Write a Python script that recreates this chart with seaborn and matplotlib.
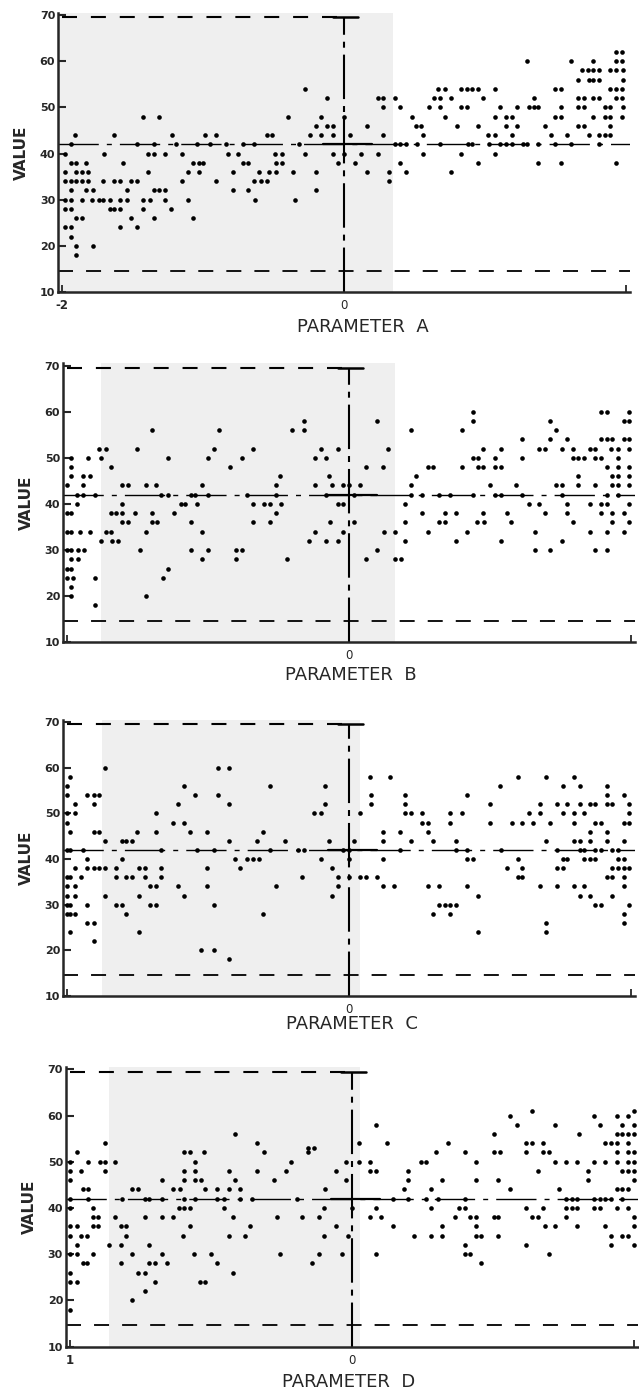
import matplotlib
matplotlib.use('Agg')
import pandas as pd
import seaborn as sns
from matplotlib import pyplot as plt

# dot rows: value -> parameter positions of the dots on that row
param_a = {
    62: [1.93, 1.97],
    60: [1.30, 1.61, 1.77, 1.93, 1.97],
    58: [1.69, 1.73, 1.77, 1.81, 1.89, 1.93, 1.98],
    56: [1.66, 1.74, 1.77, 1.81, 1.98],
    54: [-0.28, 0.67, 0.72, 0.83, 0.87, 0.91, 0.95, 1.07, 1.50, 1.54, 1.89, 1.93, 1.97],
    52: [-0.12, 0.24, 0.28, 0.36, 0.64, 0.68, 0.76, 0.99, 1.35, 1.66, 1.70, 1.77, 1.81, 1.93, 1.97],
    50: [0.28, 0.40, 0.60, 0.68, 0.83, 0.87, 1.11, 1.23, 1.31, 1.35, 1.38, 1.54, 1.66, 1.70, 1.85, 1.89, 1.98],
    48: [-1.43, -1.31, -0.40, -0.16, 0.00, 0.48, 0.72, 1.07, 1.15, 1.19, 1.50, 1.54, 1.77, 1.85, 1.89, 1.97],
    46: [-0.20, -0.12, -0.08, 0.16, 0.51, 0.55, 0.80, 0.95, 1.15, 1.23, 1.43, 1.66, 1.70, 1.89],
    44: [-1.91, -1.63, -1.22, -0.99, -0.91, -0.55, -0.51, -0.24, -0.16, -0.08, 0.04, 0.28, 0.56, 1.02,
         1.07, 1.19, 1.47, 1.58, 1.74, 1.81, 1.85, 1.89],
    42: [-1.94, -1.47, -1.35, -1.19, -1.04, -0.95, -0.84, -0.72, -0.64, -0.32, 0.36, 0.40, 0.44, 0.52,
         0.68, 0.88, 0.91, 1.03, 1.11, 1.15, 1.19, 1.27, 1.30, 1.38, 1.50, 1.61, 1.81],
    40: [-1.98, -1.70, -1.39, -1.35, -1.27, -1.15, -0.82, -0.75, -0.49, -0.44, -0.28, -0.08, 0.00, 0.12,
         0.24, 0.56, 0.83, 1.07],
    38: [-1.94, -1.90, -1.83, -1.57, -1.07, -1.03, -1.00, -0.72, -0.68, -0.48, -0.44, -0.04, 0.08, 0.40,
         0.95, 1.38, 1.54, 1.93],
    36: [-1.98, -1.90, -1.86, -1.82, -1.39, -1.11, -1.03, -0.79, -0.60, -0.53, -0.48, -0.36, -0.20, 0.16,
         0.32, 0.44, 0.76],
    34: [-1.98, -1.94, -1.90, -1.86, -1.82, -1.71, -1.63, -1.59, -1.51, -1.47, -1.15, -0.91, -0.64, -0.59,
         -0.55, 0.32],
    32: [-1.94, -1.83, -1.78, -1.54, -1.35, -1.31, -1.27, -0.79, -0.68, -0.20],
    30: [-1.98, -1.94, -1.86, -1.79, -1.74, -1.71, -1.66, -1.59, -1.54, -1.43, -1.38, -1.27, -1.11, -0.63, -0.35],
    28: [-1.98, -1.94, -1.66, -1.63, -1.59, -1.43, -1.23],
    26: [-1.90, -1.86, -1.51, -1.35, -1.07],
    24: [-1.98, -1.94, -1.59, -1.47],
    22: [-1.94],
    20: [-1.90, -1.78],
    18: [-1.90],
}

param_b = {
    60: [0.88, 1.79, 1.83, 1.99],
    58: [-0.32, 0.20, 0.88, 1.43, 1.95, 1.99],
    56: [-1.40, -0.92, -0.40, -0.32, 0.44, 0.80, 1.47],
    54: [1.23, 1.43, 1.55, 1.79, 1.83, 1.87, 1.95, 1.99],
    52: [-1.77, -1.72, -1.50, -0.96, -0.68, -0.20, -0.08, 0.28, 0.95, 1.08, 1.35, 1.39, 1.51, 1.59, 1.71,
         1.75, 1.86, 1.91, 1.99],
    50: [-1.97, -1.85, -1.76, -1.28, -1.00, -0.76, -0.24, -0.16, 0.88, 0.92, 1.04, 1.23, 1.59, 1.63, 1.67,
         1.75, 1.79, 1.91],
    48: [-1.97, -1.69, -0.84, 0.12, 0.24, 0.56, 0.60, 0.80, 0.92, 0.95, 1.04, 1.08, 1.83, 1.91, 1.99],
    46: [-1.97, -1.89, -1.84, -0.49, -0.14, 0.48, 1.63, 1.87, 1.91, 1.99],
    44: [-2.00, -1.89, -1.61, -1.57, -1.44, -1.37, -1.04, -0.52, -0.24, -0.12, -0.04, 0.00, 0.08, 0.44,
         1.00, 1.19, 1.47, 1.51, 1.63, 1.75, 1.87, 1.91, 1.99],
    42: [-1.93, -1.89, -1.80, -1.33, -1.28, -1.12, -1.09, -1.00, -0.72, -0.52, -0.16, 0.04, 0.44, 0.52,
         0.64, 0.72, 0.88, 1.04, 1.08, 1.23, 1.51, 1.83, 1.91],
    40: [-1.93, -1.61, -1.19, -1.16, -1.08, -0.68, -0.60, -0.56, -0.48, -0.08, -0.04, 0.40, 1.28, 1.35,
         1.55, 1.71, 1.79, 1.83, 1.99],
    38: [-2.00, -1.97, -1.69, -1.65, -1.61, -1.52, -1.40, -1.24, -0.52, 0.52, 0.68, 0.76, 0.95, 1.12,
         1.39, 1.55, 1.79, 1.87, 1.95],
    36: [-1.61, -1.57, -1.40, -1.36, -1.12, -0.68, -0.56, -0.13, 0.04, 0.40, 0.64, 0.68, 0.91, 0.96,
         1.15, 1.59, 1.87, 1.99],
    34: [-2.00, -1.97, -1.91, -1.84, -1.72, -1.69, -1.44, -1.04, -0.24, -0.04, 0.25, 0.33, 0.56, 0.84,
         1.32, 1.71, 1.83, 1.95],
    32: [-1.76, -1.68, -1.64, -0.28, -0.16, -0.08, 0.40, 0.76, 1.08, 1.51],
    30: [-2.00, -1.97, -1.92, -1.88, -1.48, -1.12, -1.00, -0.80, -0.76, 0.20, 1.32, 1.43, 1.75, 1.83],
    28: [-1.97, -1.92, -1.04, -0.80, -0.44, 0.12, 0.33, 0.37],
    26: [-2.00, -1.97, -1.28],
    24: [-2.00, -1.96, -1.80, -1.32],
    22: [-1.97],
    20: [-1.97, -1.44],
    18: [-1.80],
}

param_c = {
    60: [-1.73, -0.93, -0.85],
    58: [-1.98, 0.15, 0.29, 1.20, 1.40, 1.60],
    56: [-2.00, -1.17, -0.56, -0.17, 1.07, 1.52, 1.64, 1.83],
    54: [-2.00, -1.86, -1.81, -1.77, -1.09, -0.93, 0.16, 0.40, 0.84, 1.83, 1.95],
    52: [-1.94, -1.81, -1.21, -0.85, -0.17, 0.16, 0.40, 1.00, 1.36, 1.48, 1.55, 1.64, 1.71, 1.75, 1.83,
         1.87, 1.99],
    50: [-2.00, -1.94, -1.37, -0.25, -0.20, 0.08, 0.40, 0.44, 0.52, 0.72, 0.80, 1.28, 1.36, 1.52, 1.60,
         1.67, 1.99],
    48: [-2.00, -1.25, -1.17, 0.52, 0.56, 0.72, 1.00, 1.16, 1.23, 1.31, 1.43, 1.60, 1.75, 1.79, 1.95, 1.99],
    46: [-1.98, -1.81, -1.77, -1.50, -1.37, -1.13, -1.01, -0.61, 0.24, 0.36, 0.56, 1.71, 1.83],
    44: [-1.73, -1.61, -1.58, -1.54, -0.85, -0.65, -0.45, -0.14, 0.04, 0.24, 0.44, 0.60, 0.76, 1.40,
         1.60, 1.64, 1.71, 1.83, 1.95],
    42: [-2.00, -1.98, -1.89, -1.33, -1.08, -0.96, -0.56, -0.36, -0.32, -0.04, 0.00, 0.36, 0.76, 0.84,
         1.08, 1.48, 1.64, 1.67, 1.75, 1.79, 1.87, 1.91],
    40: [-1.86, -1.61, -0.81, -0.72, -0.68, -0.64, -0.20, 0.00, 0.24, 0.84, 0.88, 1.20, 1.52, 1.55, 1.67,
         1.71, 1.75, 1.91, 1.95],
    38: [-1.94, -1.86, -1.81, -1.77, -1.73, -1.65, -1.49, -1.45, -1.33, -1.01, -0.77, -0.12, 1.12, 1.23,
         1.48, 1.52, 1.87, 1.91, 1.95, 1.99],
    36: [-2.00, -1.98, -1.90, -1.65, -1.58, -1.54, -1.45, -1.33, -0.33, -0.08, 0.00, 0.08, 0.12, 0.20,
         1.20, 1.23, 1.83, 1.87, 1.95],
    34: [-2.00, -1.94, -1.41, -1.37, -1.21, -1.01, -0.52, -0.08, 0.24, 0.32, 0.56, 0.64, 0.84, 1.36, 1.48,
         1.60, 1.67, 1.95],
    32: [-2.00, -1.94, -1.73, -1.49, -1.17, -0.12, 0.92, 1.64, 1.71, 1.87],
    30: [-2.00, -1.98, -1.86, -1.65, -1.61, -1.41, -1.37, -0.96, 0.64, 0.68, 0.72, 0.76, 1.75, 1.79, 1.99],
    28: [-2.00, -1.98, -1.94, -1.58, -0.61, 0.60, 0.72, 1.95],
    26: [-1.86, -1.81, 1.40, 1.95],
    24: [-1.98, -1.49, 0.92, 1.40],
    22: [-1.81],
    20: [-1.05, -0.96],
    18: [-0.85],
}

param_d = {
    61: [1.28, 2.00],
    60: [1.12, 1.72, 1.88, 1.96],
    58: [0.17, 1.17, 1.44, 1.76, 1.92, 2.00],
    56: [-0.83, 1.01, 1.61, 1.88, 1.92, 1.96, 2.00],
    54: [-1.75, -0.67, 0.05, 0.25, 0.68, 1.24, 1.28, 1.36, 1.80, 1.84, 1.88, 1.96],
    53: [-0.31, -0.27],
    52: [-1.95, -1.19, -1.15, -1.05, -0.62, -0.31, 0.60, 0.80, 1.01, 1.05, 1.24, 1.36, 1.40, 1.88, 1.96, 2.00],
    50: [-2.00, -1.87, -1.79, -1.75, -1.68, -1.11, -0.43, -0.04, 0.05, 0.13, 0.49, 0.53, 0.88, 1.44, 1.52,
         1.60, 1.72, 1.80, 1.88, 1.96, 2.00],
    48: [-2.00, -1.92, -1.75, -1.19, -1.11, -0.87, -0.67, -0.47, -0.11, 0.13, 0.17, 0.40, 1.32, 1.68, 1.92,
         1.96, 2.00],
    46: [-2.00, -1.35, -1.19, -1.11, -1.07, -0.83, -0.55, -0.04, 0.40, 0.64, 0.88, 1.04, 1.68, 2.00],
    44: [-1.91, -1.87, -1.56, -1.52, -1.27, -1.22, -1.04, -0.96, -0.87, -0.79, -0.19, 0.37, 0.56, 1.12,
         1.47, 1.88, 1.92, 1.96],
    42: [-2.00, -1.87, -1.63, -1.47, -1.44, -1.35, -1.19, -1.11, -0.96, -0.91, -0.79, -0.71, -0.39, 0.29,
         0.40, 0.53, 0.61, 0.80, 1.52, 1.56, 1.60, 1.72, 1.76, 1.80, 1.84, 1.92],
    40: [-2.00, -1.84, -1.23, -1.19, -1.15, -0.91, -0.20, 0.00, 0.17, 0.56, 0.76, 0.80, 1.24, 1.36, 1.52,
         1.56, 1.60, 1.72, 1.76, 1.88, 1.96],
    38: [-1.84, -1.80, -1.68, -1.47, -1.35, -1.27, -0.84, -0.53, -0.35, -0.23, 0.13, 0.21, 0.73, 0.84,
         0.88, 1.01, 1.04, 1.28, 1.32, 1.52, 2.00],
    36: [-2.00, -1.95, -1.84, -1.80, -1.64, -1.60, -1.15, -0.72, -0.11, 0.29, 0.64, 0.88, 1.37, 1.44,
         1.60, 1.80, 2.00],
    34: [-2.00, -1.92, -1.88, -1.60, -1.20, -0.87, -0.76, -0.20, -0.03, 0.44, 0.56, 0.64, 0.88, 0.92,
         1.04, 1.84, 1.92, 1.96],
    32: [-1.95, -1.72, -1.64, -1.44, 0.80, 1.24, 1.84, 2.00],
    30: [-2.00, -1.95, -1.84, -1.56, -1.35, -1.12, -1.00, -0.51, -0.23, -0.07, 0.17, 0.80, 0.84, 1.40],
    28: [-1.91, -1.88, -1.64, -1.44, -1.40, -1.31, -0.96, -0.28, 0.92],
    26: [-2.00, -1.52, -1.47, -0.84],
    24: [-2.00, -1.95, -1.40, -1.08, -1.04],
    22: [-1.47],
    20: [-1.56],
    18: [-2.00],
}

panel_rows = [param_a, param_b, param_c, param_d]
panel_names = ['A', 'B', 'C', 'D']
left_tick_labels = ['-2', '', '', '1']
y_ticks = [10, 20, 30, 40, 50, 60, 70]
mean_value = 42
upper_limit = 69.5
lower_limit = 14.6

# layout of the four panels (figure fractions) and where the scan is greyed
boxes = [
    [58 / 639, 0.7899, 572 / 639, 0.2009],
    [62.8 / 639, 0.5379, 572 / 639, 0.2008],
    [62.8 / 639, 0.2835, 572 / 639, 0.1986],
    [65.8 / 639, 0.0312, 572 / 639, 0.2012],
]
xlabel_pos = [(0.533, -0.093), (0.504, -0.086), (0.506, -0.068), (0.495, -0.093)]
grey_span = [(-2.03, 0.35), (-1.76, 0.33), (-1.75, 0.08), (-1.72, 0.06)]


def rows_to_frame(rows):
    recs = [(x, v) for v, xs in rows.items() for x in xs]
    return pd.DataFrame(recs, columns=['param', 'value'])


sns.set_style('ticks')
plt.rcParams['font.family'] = ['DejaVu Sans']
plt.rcParams['lines.scale_dashes'] = False

fig = plt.figure(figsize=(6.39, 13.9), dpi=100)

for rows, name, left_lab, box, lpos, span in zip(panel_rows, panel_names, left_tick_labels,
                                                 boxes, xlabel_pos, grey_span):
    ax = fig.add_axes(box)
    df = rows_to_frame(rows)

    ax.axvspan(span[0], span[1], color='#efefef', lw=0, zorder=0)
    sns.scatterplot(data=df, x='param', y='value', color='black', s=11, linewidth=0,
                    ax=ax, zorder=4, legend=False)

    # reference lines
    ax.plot([-2.0, 0.0], [upper_limit] * 2, color='black', lw=1.5, dashes=(10.8, 10))
    ax.plot([-2.03, 2.03], [lower_limit] * 2, color='black', lw=1.3, dashes=(10.8, 9.4))
    ax.plot([-2.03, 2.03], [mean_value] * 2, color='black', lw=1.0, dashes=(29, 5.8, 3.6, 5.8))
    ax.plot([-0.15, 0.2], [mean_value] * 2, color='black', lw=1.6)
    ax.plot([0, 0], [10, upper_limit], color='black', lw=1.5, dashes=(32, 5, 4.3, 5))
    ax.plot([-0.08, 0.1], [upper_limit] * 2, color='black', lw=1.8)

    ax.set_xlim(-2.03, 2.03)
    ax.set_ylim(10, 70.5)
    sns.despine(ax=ax)
    for side in ['left', 'bottom']:
        ax.spines[side].set_linewidth(1.8)

    ax.set_yticks(y_ticks, labels=[str(v) for v in y_ticks], fontsize=8, fontweight='bold')
    ax.tick_params(axis='y', direction='in', length=6, width=1.5, pad=2)
    ax.set_xticks([-2, 0, 2], labels=[left_lab, '0', ''], fontsize=8.5)
    ax.get_xticklabels()[0].set_fontweight('bold')
    ax.tick_params(axis='x', direction='in', length=5, width=1.3, pad=5)

    ax.set_ylabel('VALUE', fontsize=11, fontweight='bold')
    ax.yaxis.set_label_coords(-0.05, 0.5)
    ax.set_xlabel('PARAMETER  ' + name, fontsize=13)
    ax.xaxis.set_label_coords(lpos[0], lpos[1])

fig.savefig('out.png', dpi=100)
